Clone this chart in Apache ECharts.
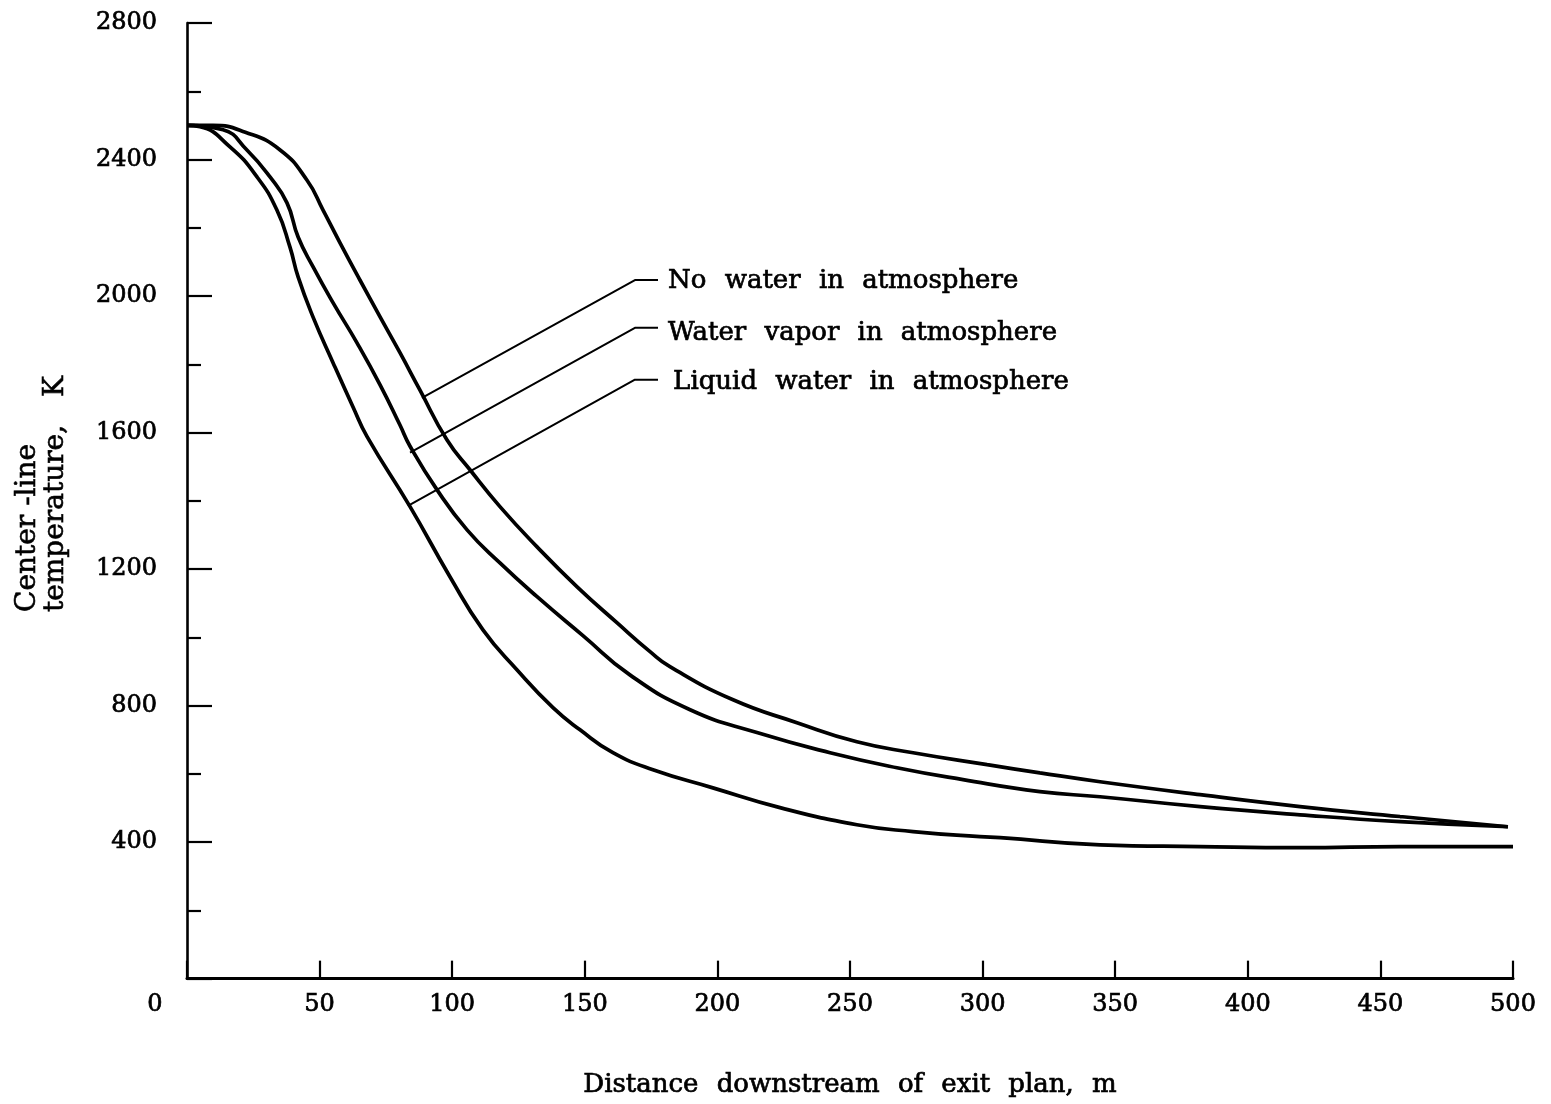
<!DOCTYPE html>
<html>
<head>
<meta charset="utf-8">
<script src="https://cdn.jsdelivr.net/npm/echarts@6/dist/echarts.min.js"></script>
<style>
html,body{margin:0;padding:0;background:#fff;}
#chart{width:1551px;height:1104px;}
</style>
</head>
<body>
<div id="chart"></div>
<script>
// ---- Data ----
const xTickLabels = [0, 50, 100, 150, 200, 250, 300, 350, 400, 450, 500];
const yTickLabels = [400, 800, 1200, 1600, 2000, 2400, 2800];

const noWater = [
  [0, 2500], [9.8, 2500], [22, 2480], [35.1, 2428], [45.2, 2340], [51.3, 2252], [57.7, 2156],
  [65.2, 2047], [72.8, 1939], [80.3, 1834], [87.8, 1725], [98.0, 1579], [106.7, 1491],
  [118.0, 1383], [132.0, 1265], [147.1, 1148], [162.1, 1043], [174.6, 958], [182.1, 914],
  [205.9, 817], [230.0, 750], [252.6, 694], [273.8, 662], [301.7, 627], [321.6, 603],
  [344.3, 577], [382.0, 539], [419.7, 504], [457.4, 475], [498.1, 445]
];
const waterVapor = [
  [0, 2500], [13.6, 2487], [22.6, 2428], [31.3, 2349], [37.7, 2273], [41.9, 2173],
  [47.5, 2086], [55.1, 1980], [64.1, 1863], [72.8, 1740], [80.3, 1622], [84.1, 1560],
  [94.3, 1432], [105.6, 1315], [118.0, 1218], [132.0, 1119], [149.3, 1005], [167.0, 890],
  [189.7, 788], [214.9, 721], [242.5, 662], [267.7, 618], [292.6, 583], [321.6, 548],
  [344.3, 533], [382.0, 504], [419.7, 480], [457.4, 460], [498.1, 445]
];
const liquidWater = [
  [0, 2500], [4.9, 2496], [16.2, 2437], [26.4, 2349], [33.9, 2252], [38.8, 2144],
  [41.9, 2056], [47.5, 1939], [55.1, 1804], [62.6, 1675], [67.9, 1588], [84.1, 1383],
  [99.2, 1177], [111.6, 1022], [124.4, 905], [138.0, 794], [148.2, 729], [160.6, 662],
  [175.7, 612], [198.3, 559], [223.6, 501], [252.6, 451], [273.8, 431], [299.0, 416],
  [306.6, 413], [344.3, 392], [382.0, 387], [419.7, 384], [457.4, 387], [500, 387]
];

const annotationText = ['No water in atmosphere', 'Water vapor in atmosphere', 'Liquid water in atmosphere'];
const leaderNoWater = [[88.6, 1702], [168.9, 2047], [177.6, 2047]];
const leaderVapor = [[84.1, 1541], [168.9, 1907], [177.6, 1907]];
const leaderLiquid = [[83.3, 1385], [168.9, 1755], [177.6, 1755]];
const annotationAnchors = [[181.4, 2042], [181.4, 1892], [183.3, 1746]];

const xAxisName = 'Distance downstream of exit plan, m';
const yAxisName = 'Center -line\ntemperature, K';

// ---- Chart ----
const FONT = 'DejaVu Serif';
const SP = '\u2002\u2009';
const chart = echarts.init(document.getElementById('chart'), null, {renderer: 'canvas'});

function curve(name, data) {
  return {
    name: name, type: 'line', data: data, symbol: 'none',
    smooth: 0.5, silent: true, z: 3,
    lineStyle: {color: '#000', width: 3.7}
  };
}
function leader(data) {
  return {
    type: 'line', data: data, symbol: 'none', silent: true, z: 2,
    lineStyle: {color: '#000', width: 2}
  };
}
const heavy = {textBorderColor: '#000', textBorderWidth: 0.7};

const option = {
  backgroundColor: '#fff',
  animation: false,
  grid: {left: 187, right: 38, top: 23, bottom: 125, containLabel: false},
  xAxis: {
    type: 'value', min: 0, max: 500, interval: 50,
    name: xAxisName.split(' ').join(SP),
    nameLocation: 'middle', nameGap: 94,
    nameTextStyle: Object.assign({fontFamily: FONT, fontSize: 26, color: '#000'}, heavy),
    axisLine: {show: true, onZero: false, lineStyle: {color: '#000', width: 3}},
    axisTick: {show: true, inside: true, length: 18, lineStyle: {color: '#000', width: 2.2}},
    splitLine: {show: false},
    axisLabel: Object.assign({
      margin: 14, color: '#000', fontFamily: FONT, fontSize: 24,
      formatter: function (v) {
        return v === 0 ? '{z|0}' : String(v);
      },
      rich: {z: Object.assign({fontFamily: FONT, fontSize: 24, color: '#000', padding: [0, 64, 0, 0]}, heavy)}
    }, heavy)
  },
  yAxis: {
    type: 'value', min: 0, max: 2800, interval: 400,
    axisLine: {show: true, onZero: false, lineStyle: {color: '#000', width: 2.6}},
    axisTick: {show: true, inside: true, length: 25, lineStyle: {color: '#000', width: 2.2}},
    minorTick: {show: true, splitNumber: 2, length: 14, lineStyle: {color: '#000', width: 2.2}},
    splitLine: {show: false},
    minorSplitLine: {show: false},
    axisLabel: Object.assign({
      margin: 30, color: '#000', fontFamily: FONT, fontSize: 24,
      formatter: function (v) { return yTickLabels.indexOf(v) >= 0 ? String(v) : ''; }
    }, heavy)
  },
  graphic: [{
    type: 'text', x: 42, y: 612, rotation: Math.PI / 2, silent: true,
    style: {
      text: yAxisName.replace(', ', ',' + '\u2003'), fontFamily: FONT, fontSize: 28, fill: '#000',
      stroke: '#000', lineWidth: 0.6,
      align: 'left', verticalAlign: 'middle', lineHeight: 28
    }
  }],
  series: [
    curve(annotationText[0], noWater),
    curve(annotationText[1], waterVapor),
    curve(annotationText[2], liquidWater),
    leader(leaderNoWater),
    leader(leaderVapor),
    leader(leaderLiquid),
    {
      type: 'scatter', symbolSize: 0, silent: true, z: 4,
      itemStyle: {opacity: 1, color: '#000'},
      data: annotationAnchors.map(function (p, i) {
        return {value: p, name: annotationText[i]};
      }),
      label: Object.assign({
        show: true, position: 'right', distance: 0, opacity: 1,
        fontFamily: FONT, fontSize: 26, color: '#000',
        formatter: function (p) { return p.name.split(' ').join(SP); }
      }, heavy)
    }
  ]
};
chart.setOption(option);
</script>
</body>
</html>
